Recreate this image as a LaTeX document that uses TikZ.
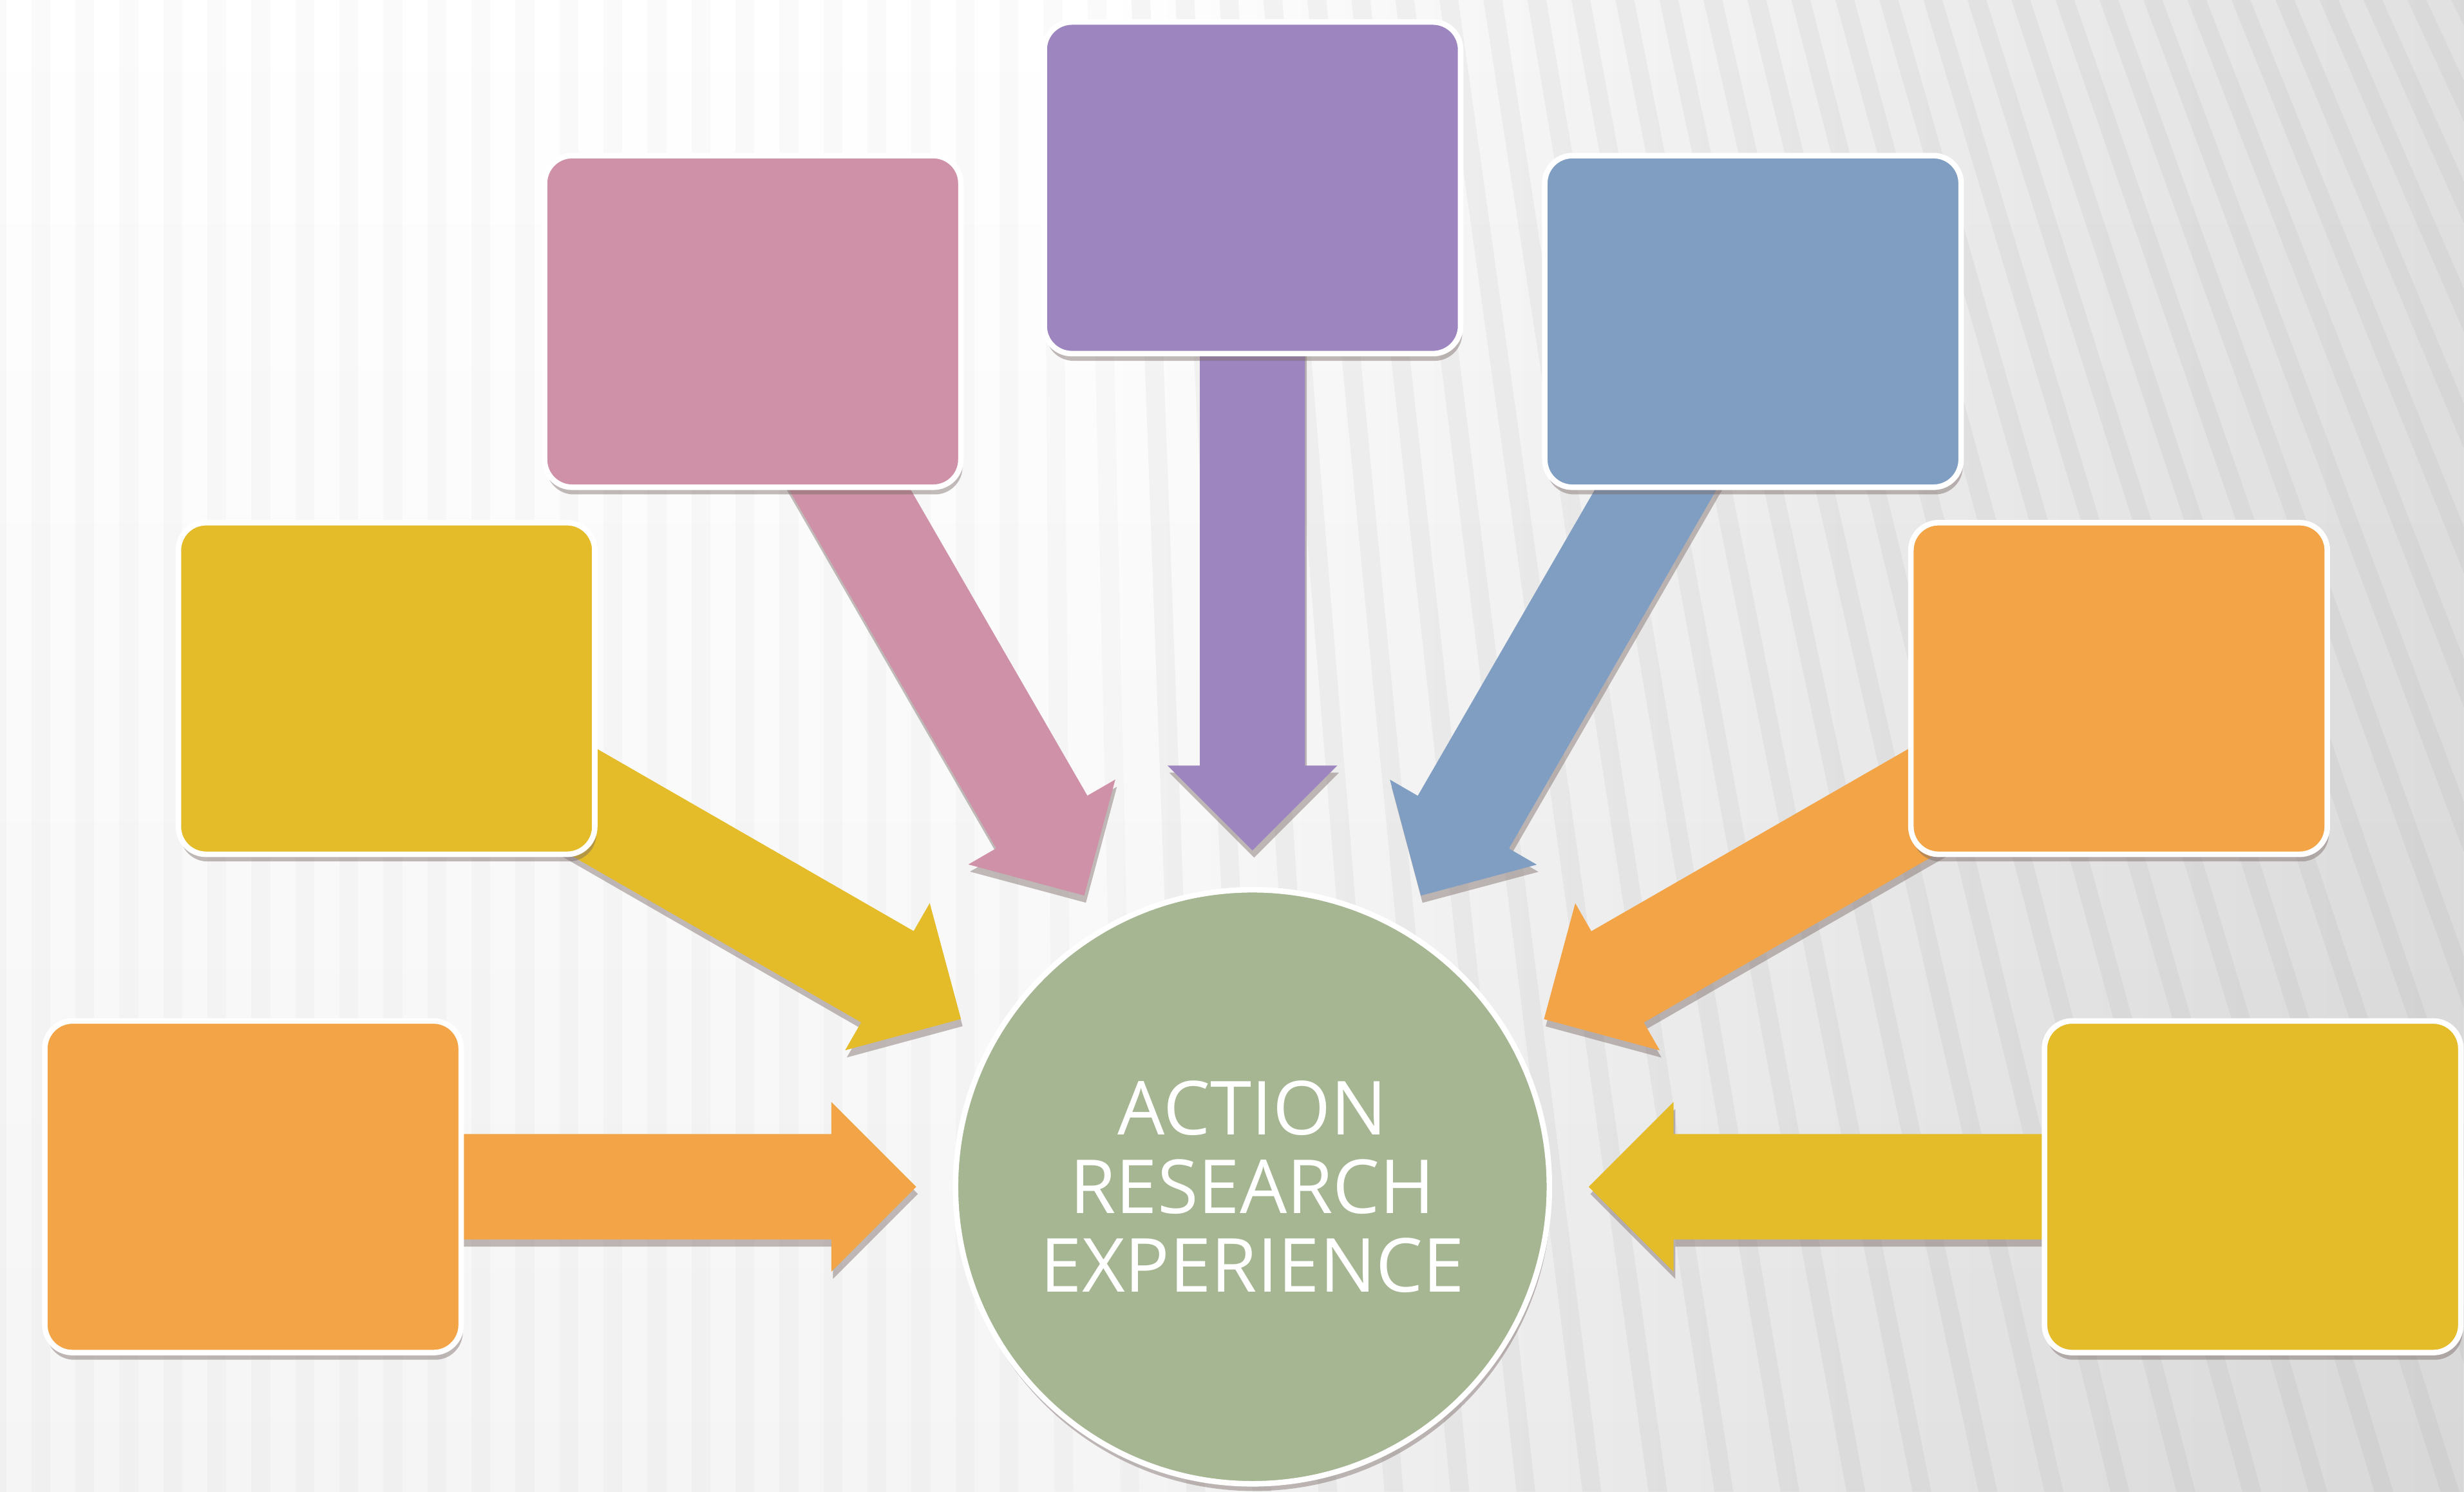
\documentclass[tikz,border=0pt]{standalone}
\usepackage{fontspec}
\newfontfamily\circfont{Open Sans}
\usetikzlibrary{calc,shadows,fadings}
\definecolor{cOrange}{HTML}{F2A447}
\definecolor{cYellow}{HTML}{E4BC29}
\definecolor{cPink}{HTML}{CF91A7}
\definecolor{cPurple}{HTML}{9D85BF}
\definecolor{cBlue}{HTML}{7F9EC2}
\definecolor{cGreen}{HTML}{A6B592}
\definecolor{cShadow}{HTML}{7A6A66}
\pgfdeclarelayer{bg}
\pgfdeclarelayer{arr}
\pgfsetlayers{bg,arr,main}
\tikzset{
  softshadow/.style={drop shadow={shadow xshift=0.6pt, shadow yshift=-2.6pt, fill=cShadow, opacity=0.45}},
  panel/.style={rectangle, rounded corners=10pt, draw=white, line width=2pt,
    minimum width=5.3cm, minimum height=4.22cm, softshadow, fill=#1},
  hub/.style={circle, draw=white, line width=2pt, minimum size=7.56cm, inner sep=0pt,
    fill=cGreen, softshadow, text=white, align=center,
    font=\circfont\fontsize{27}{28.45}\selectfont},
  stripe/.style={fill=black}
}
\newcommand{\feedarrow}[2]{%
  \begin{pgfonlayer}{arr}
  \path[fill=#2, softshadow] let \p1=($(#1.center)-(circ.center)$),
      \n1={atan2(\y1,\x1)}, \n2={\n1+90} in
    ($(circ.center)+(\n1:560)+(\n2:33.5)$) --
    ($(circ.center)+(\n1:268)+(\n2:33.5)$) --
    ($(circ.center)+(\n1:268)+(\n2:54)$) --
    ($(circ.center)+(\n1:214)$) --
    ($(circ.center)+(\n1:268)+(\n2:-54)$) --
    ($(circ.center)+(\n1:268)+(\n2:-33.5)$) --
    ($(circ.center)+(\n1:560)+(\n2:-33.5)$) -- cycle;
  \end{pgfonlayer}}
\begin{document}
\begin{tikzpicture}[x=0.02cm, y=0.02cm]
\useasboundingbox (0,0) rectangle (1568,949);
% background
\begin{pgfonlayer}{bg}
  \fill[white] (0,0) rectangle (1568,949);
  \shade[left color=white, right color=black!12] (700,0) rectangle (1568,949);
  \fill[black, opacity=0.04, path fading=north] (0,0) rectangle (1568,949);
  \begin{scope}
    \clip (0,0) rectangle (1568,949);
    \foreach \t in {-400,-372,...,2000} {
      \pgfmathsetmacro\s{max(0,\t-650)*0.5}
      \pgfmathsetmacro\op{\t>700 ? 0.035 : 0.018}
      \fill[stripe, opacity=\op] (\t,949) -- (\t+12,949) -- (\t+12+\s,0) -- (\t+\s,0) -- cycle;
    }
  \end{scope}
\end{pgfonlayer}
% hub
\node[hub] (circ) at (797,194) {ACTION\\RESEARCH\\EXPERIENCE};
% panels
\node[panel=cOrange] (b1) at (161,194) {};
\node[panel=cYellow] (b2) at (246,511) {};
\node[panel=cPink] (b3) at (479,744.5) {};
\node[panel=cPurple] (b4) at (797,829.5) {};
\node[panel=cBlue] (b5) at (1115.5,744.5) {};
\node[panel=cOrange] (b6) at (1348.5,511) {};
\node[panel=cYellow] (b7) at (1433.5,194) {};
% arrows
\feedarrow{b1}{cOrange}
\feedarrow{b2}{cYellow}
\feedarrow{b3}{cPink}
\feedarrow{b4}{cPurple}
\feedarrow{b5}{cBlue}
\feedarrow{b6}{cOrange}
\feedarrow{b7}{cYellow}
\end{tikzpicture}
\end{document}
